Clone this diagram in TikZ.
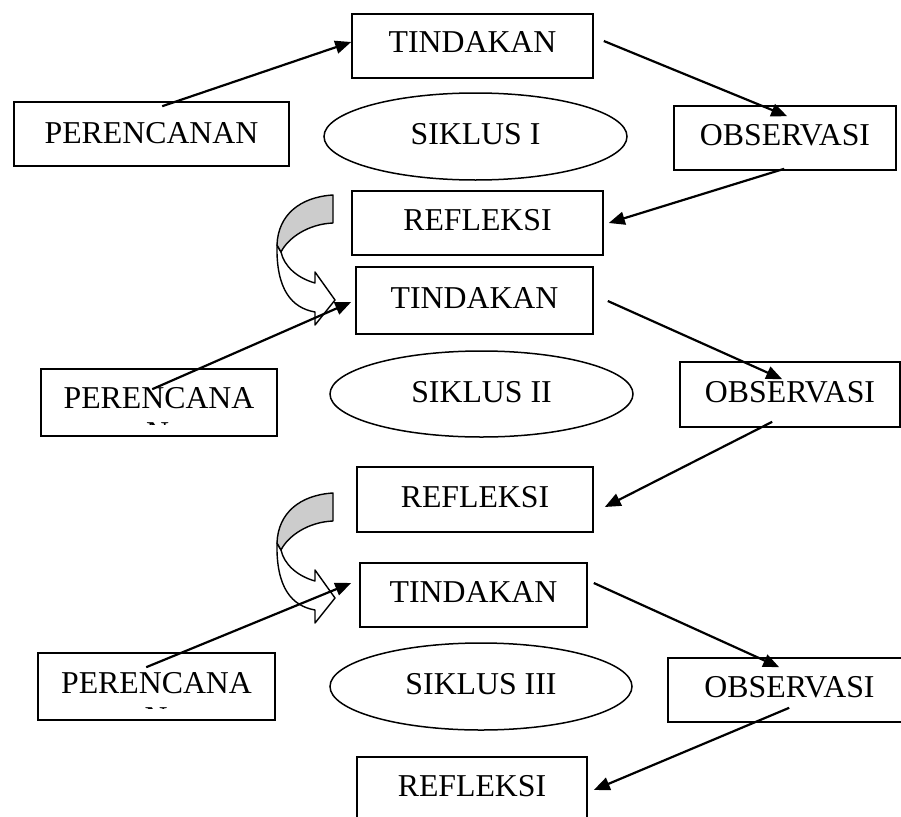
\documentclass[tikz,border=0pt]{standalone}
\usepackage{fontspec}
\setmainfont{Liberation Serif}
\usetikzlibrary{arrows.meta,shapes.geometric}
\newcommand\bigsz{\fontsize{31.8}{38}\selectfont}
\begin{document}
\begin{tikzpicture}[x=1pt,y=-1pt,
  box/.style={draw, line width=1.6pt, rectangle, inner sep=0pt, text depth=6pt, font=\bigsz},
  oval/.style={draw, line width=1.5pt, ellipse, inner sep=0pt, text depth=5pt, font=\bigsz},
  conn/.style={line width=2.2pt, -{Triangle[length=16pt,width=13pt]}},
  bendarrow/.style={draw, line width=1.4pt, line join=round},
]
\useasboundingbox (0,0) rectangle (901,816);
\clip (0,0) rectangle (901,816);

% curved (reflection -> next cycle) arrows
\foreach \dy in {0,298}{
  \begin{scope}[shift={(0,\dy)}]
    \path[bendarrow, fill=white] (277,245) .. controls (276,290) and (292,308) .. (315,312)
      -- (315,325) -- (335,300) -- (315,272) -- (315,283)
      .. controls (297,278) and (284,266) .. (281,252) -- cycle;
    \path[bendarrow, fill=black!20] (333,195) .. controls (300,197) and (278,215) .. (277,245)
      -- (281,252) .. controls (288,238) and (308,224) .. (333,223) -- cycle;
  \end{scope}
}

% cycle I
\node[box, minimum width=275pt, minimum height=64pt, text depth=3pt] (per1) at (151.5,134) {PERENCANAN};
\node[box, minimum width=241pt, minimum height=64pt, text depth=7pt] (tin1) at (472.5,46) {TINDAKAN};
\node[box, minimum width=222pt, minimum height=64pt] (obs1) at (785,138) {OBSERVASI};
\node[box, minimum width=251pt, minimum height=64pt] (ref1) at (477.5,223) {REFLEKSI};
\node[oval, minimum width=303pt, minimum height=87pt] (sik1) at (475.5,136.5) {SIKLUS I};

% cycle II
\node[box, minimum width=237pt, minimum height=67pt] (tin2) at (474.5,300.5) {TINDAKAN};
\node[box, minimum width=236pt, minimum height=67pt, text depth=10pt] (per2) at (159,402.5) {PERENCANA};
\node[box, minimum width=220pt, minimum height=65pt] (obs2) at (790,394.5) {OBSERVASI};
\node[box, minimum width=236pt, minimum height=65pt] (ref2) at (475,499.5) {REFLEKSI};
\node[oval, minimum width=303pt, minimum height=86pt] (sik2) at (481.5,394) {SIKLUS II};

% cycle III
\node[box, minimum width=227pt, minimum height=64pt] (tin3) at (473.5,595) {TINDAKAN};
\node[box, minimum width=237pt, minimum height=67pt, text depth=8pt] (per3) at (156.5,686.5) {PERENCANA};
\node[box, minimum width=243pt, minimum height=64pt] (obs3) at (789.5,690) {OBSERVASI};
\node[box, minimum width=230pt, minimum height=64pt] (ref3) at (472,789) {REFLEKSI};
\node[oval, minimum width=302pt, minimum height=87pt] (sik3) at (481,686.5) {SIKLUS III};

% clipped second lines of the planning boxes
\begin{scope}
  \clip (per2.north west) rectangle (277,424.3);
  \node[font=\bigsz, inner sep=0pt, anchor=north] (n2) at (157.5,422.8) {N};
\end{scope}
\begin{scope}
  \clip (per3.north west) rectangle (275,708.8);
  \node[font=\bigsz, inner sep=0pt, anchor=north] (n3) at (156,707.3) {N};
\end{scope}

% connectors
\draw[conn] ([shift={(149,5)}]per1.north west) -- ([shift={(0,-4)}]tin1.west);
\draw[conn] ([shift={(10,-5)}]tin1.east) -- ([shift={(114,11)}]obs1.north west);
\draw[conn] ([shift={(111,-2)}]obs1.south west) -- ([shift={(5,0)}]ref1.east);

\draw[conn] ([shift={(112,21)}]per2.north west) -- ([shift={(-4,1.5)}]tin2.west);
\draw[conn] ([shift={(14,0.5)}]tin2.east) -- ([shift={(103,18)}]obs2.north west);
\draw[conn] ([shift={(93,-6)}]obs2.south west) -- ([shift={(11,7.5)}]ref2.east);

\draw[conn] ([shift={(109,15)}]per3.north west) -- ([shift={(-8,-12)}]tin3.west);
\draw[conn] ([shift={(6,-12)}]tin3.east) -- ([shift={(112,10)}]obs3.north west);
\draw[conn] ([shift={(122,-15)}]obs3.south west) -- ([shift={(6,1)}]ref3.east);
\end{tikzpicture}
\end{document}
